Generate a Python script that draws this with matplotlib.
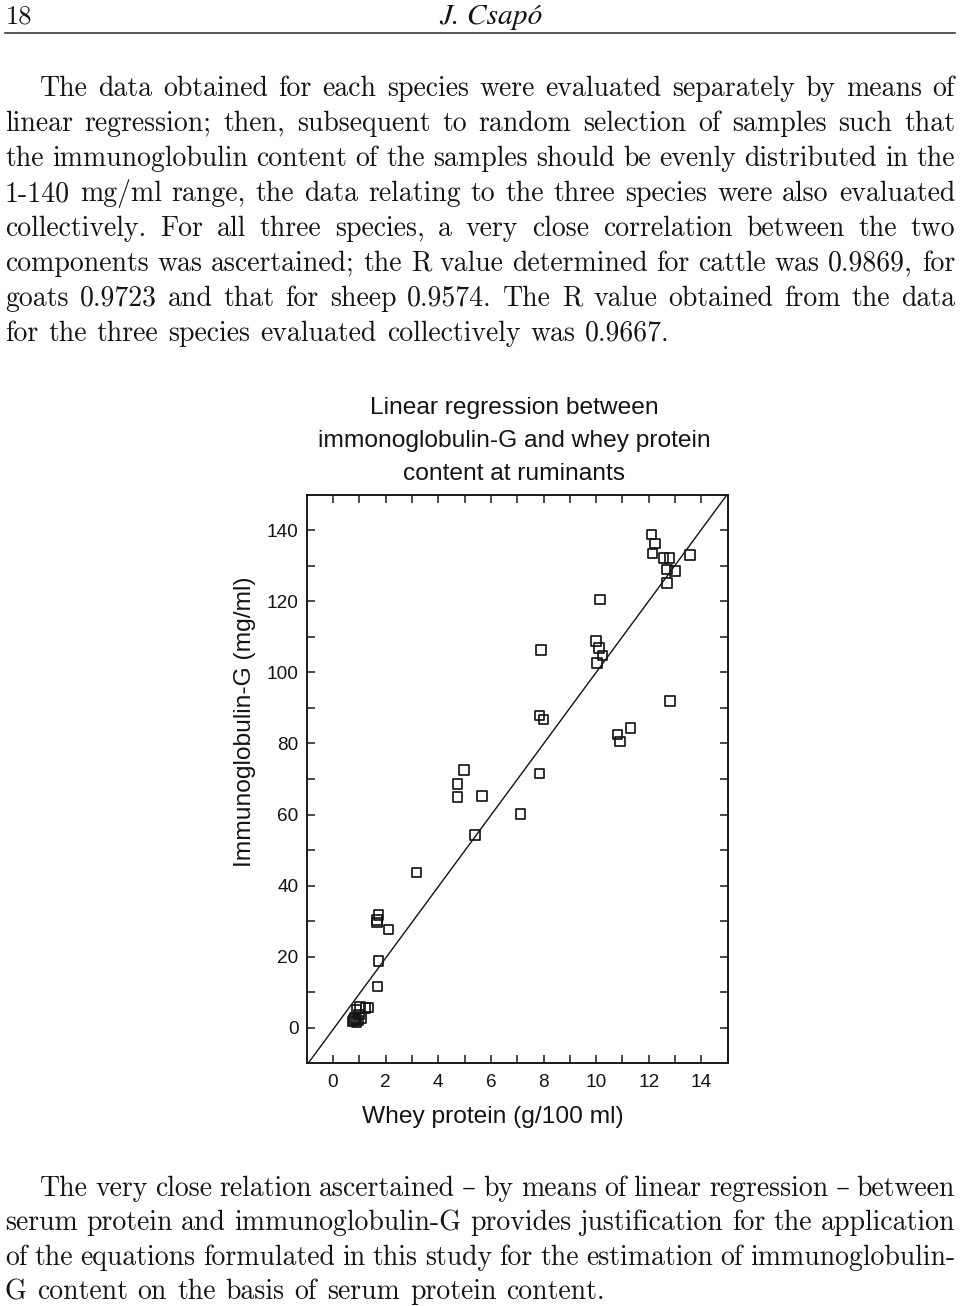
import matplotlib
matplotlib.use("Agg")
import matplotlib.pyplot as plt
from matplotlib.lines import Line2D
import numpy as np

W, H, DPI = 960, 1306, 100

# ---------------- data ----------------
whey = [12.11, 12.23, 12.14, 12.56, 12.78, 13.56, 12.69, 13.00, 12.69, 10.14,
        7.91, 10.00, 10.11, 10.24, 10.03, 12.81, 7.85, 8.00, 11.30, 10.81,
        10.90, 4.97, 4.73, 4.73, 5.66, 7.84, 7.12, 5.39, 3.17, 1.72,
        1.67, 1.67, 2.10, 1.73, 1.69, 1.35, 1.23, 1.03, 0.89, 0.99,
        1.07, 0.84, 0.76, 0.90, 0.97, 0.80]
igg = [138.8, 136.3, 133.4, 132.2, 132.2, 133.0, 128.9, 128.5, 125.2, 120.5,
       106.3, 108.9, 106.8, 104.8, 102.7, 91.9, 87.9, 86.8, 84.3, 82.5,
       80.6, 72.6, 68.6, 64.9, 65.2, 71.5, 60.2, 54.2, 43.7, 31.8,
       30.3, 29.6, 27.7, 18.8, 11.6, 5.7, 5.5, 5.9, 5.2, 3.8,
       2.7, 2.7, 1.8, 1.6, 2.0, 2.2]
reg_slope = 10.05
reg_intercept = -0.5

x_ticks = [0, 2, 4, 6, 8, 10, 12, 14]
x_minor = [1, 3, 5, 7, 9, 11, 13]
y_ticks = [0, 20, 40, 60, 80, 100, 120, 140]
y_minor = [10, 30, 50, 70, 90, 110, 130]

title_lines = ["Linear regression between",
               "immonoglobulin-G and whey protein",
               "content at ruminants"]
x_label = "Whey protein (g/100 ml)"
y_label = "Immunoglobulin-G (mg/ml)"

page_number = "18"
running_head = "J. Csapó"

para1 = ["The data obtained for each species were evaluated separately by means of",
         "linear regression; then, subsequent to random selection of samples such that",
         "the immunoglobulin content of the samples should be evenly distributed in the",
         "1-140 mg/ml range, the data relating to the three species were also evaluated",
         "collectively.  For all three species, a very close correlation between the two",
         "components was ascertained; the R value determined for cattle was 0.9869, for",
         "goats 0.9723 and that for sheep 0.9574.  The R value obtained from the data",
         "for the three species evaluated collectively was 0.9667."]
para2 = ["The very close relation ascertained \u2013 by means of linear regression \u2013 between",
         "serum protein and immunoglobulin-G provides justification for the application",
         "of the equations formulated in this study for the estimation of immunoglobulin-",
         "G content on the basis of serum protein content."]

# ---------------- helpers ----------------
def fx(px):
    return px / W

def fy(py):
    return 1 - py / H

def pt(px):
    return px * 72.0 / DPI

INK = "#141414"
BODY_FAMILY = ["cmr10", "DejaVu Serif"]
SANS = "Liberation Sans"

fig = plt.figure(figsize=(W / DPI, H / DPI), dpi=DPI)
fig.patch.set_facecolor("white")

# ---------------- header ----------------
fig.text(fx(6), fy(23.5), page_number, family=BODY_FAMILY, fontsize=pt(26.5),
         va="baseline", ha="left", color=INK)
fig.text(fx(491), fy(23.5), running_head, family="STIXGeneral", style="italic",
         fontsize=pt(29.5), va="baseline", ha="center", color=INK)
fig.add_artist(Line2D([fx(5), fx(955)], [fy(33.3), fy(33.3)], lw=pt(1.6),
                      color="#333333", transform=fig.transFigure))

# ---------------- body text ----------------
FS_PX = 27.8
FS_BODY = pt(FS_PX)
LEFT, RIGHT, INDENT = 5, 955, 35
renderer = fig.canvas.get_renderer()


def draw_paragraph(lines, first_baseline, step):
    n = len(lines)
    for i, line in enumerate(lines):
        base = first_baseline + i * step
        words = line.split()
        texts = [fig.text(0, fy(base), w, family=BODY_FAMILY, fontsize=FS_BODY,
                          va="baseline", ha="left", color=INK) for w in words]
        widths = [t.get_window_extent(renderer=renderer).width for t in texts]
        x0 = LEFT + (INDENT if i == 0 else 0)
        if i < n - 1 and len(words) > 1:
            gap = (RIGHT - x0 - sum(widths)) / (len(words) - 1)
        else:
            gap = 0.36 * FS_PX
        x = x0
        for t, w in zip(texts, widths):
            t.set_x(fx(x))
            x += w + gap


draw_paragraph(para1, 96.5, 34.86)
draw_paragraph(para2, 1195.5, 34.6)

# ---------------- chart ----------------
L, R, T, B = 306.7, 727.7, 494.7, 1063.3
ax = fig.add_axes([fx(L), fy(B), (R - L) / W, (B - T) / H])
ax.set_facecolor("white")

ax.scatter(whey, igg, marker="s", s=pt(9.5) ** 2, facecolors="none",
           edgecolors=INK, linewidths=pt(1.7), zorder=3)
xl = np.array([-1.0, 15.0])
ax.plot(xl, reg_slope * xl + reg_intercept, color=INK, lw=pt(1.4), zorder=2)

ax.set_xlim(-1, 15)
ax.set_ylim(-10, 150)
ax.set_xticks(x_ticks)
ax.set_xticks(x_minor, minor=True)
ax.set_yticks(y_ticks)
ax.set_yticks(y_minor, minor=True)
ax.tick_params(which="both", direction="in", top=True, right=True,
               length=pt(8), width=pt(1.5), color=INK)
ax.tick_params(axis="x", which="major", pad=pt(11), labelsize=pt(19),
               labelcolor=INK)
ax.tick_params(axis="y", which="major", pad=pt(8), labelsize=pt(19),
               labelcolor=INK)
for lab in ax.get_xticklabels() + ax.get_yticklabels():
    lab.set_family(SANS)
for s in ax.spines.values():
    s.set_linewidth(pt(1.9))
    s.set_color(INK)

ax.set_xlabel(x_label, family=SANS, fontsize=pt(24.5), color=INK)
ax.xaxis.set_label_coords((492.5 - L) / (R - L), (B - 1117) / (B - T))
ax.xaxis.label.set_va("center")
ax.set_ylabel(y_label, family=SANS, fontsize=pt(24.5), color=INK)
ax.yaxis.set_label_coords((245 - L) / (R - L), (B - 721.5) / (B - T))
ax.yaxis.label.set_va("center")

for line, base in zip(title_lines, [414.0, 447.0, 480.0]):
    fig.text(fx(514), fy(base), line, family=SANS, fontsize=pt(24.5),
             ha="center", va="baseline", color=INK)

fig.savefig("out.png", dpi=DPI, facecolor="white")
